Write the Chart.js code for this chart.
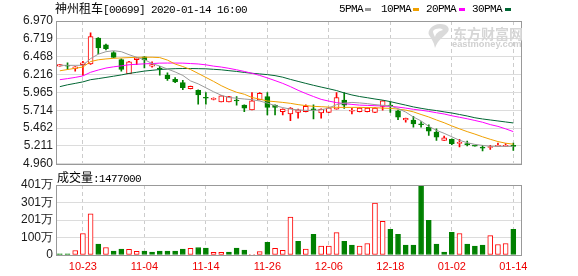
<!DOCTYPE html>
<html><head><meta charset="utf-8">
<script src="https://cdn.jsdelivr.net/npm/chart.js@4.4.1/dist/chart.umd.min.js"></script>
<style>
html,body{margin:0;padding:0;background:#fff;width:578px;height:276px;overflow:hidden;position:relative}
canvas{position:absolute;left:0}
#price{top:0}
#vol{top:170px}
.t{position:absolute;white-space:nowrap;color:#000;line-height:14px;height:14px}
.cjk{font-family:"Noto Sans CJK SC";font-size:12px}
.mono{font-family:"Liberation Mono";font-size:11px;letter-spacing:-0.6px}
.mk{position:absolute;height:3px;width:6px;top:8px}
</style></head><body>
<canvas id="price" width="578" height="174"></canvas>
<canvas id="vol" width="578" height="106"></canvas>

<div class="t" style="left:55px;top:1px"><span class="cjk">神州租车</span><span class="mono">[00699] 2020-01-14 16:00</span></div>

<div class="t mono" style="left:339px;top:2px">5PMA</div><div class="mk" style="left:365px;background:#999999"></div>
<div class="t mono" style="left:381px;top:2px">10PMA</div><div class="mk" style="left:413px;background:#f0a000"></div>
<div class="t mono" style="left:426px;top:2px">20PMA</div><div class="mk" style="left:459px;background:#ff00ff"></div>
<div class="t mono" style="left:472px;top:2px">30PMA</div><div class="mk" style="left:505px;background:#006633"></div>

<svg style="position:absolute;left:426px;top:23px" width="26" height="26" viewBox="0 0 26 26">
<path d="M14 1 C22 1 25 6 21 10 C17 14 12 17 9 25 C8 19 5 15 3 12 C1 8 6 1 14 1 Z" fill="#dadada"/>
<path d="M7 8 C10 5 15 5 17 7 C13 8 10 10 9 14 C8 12 7 10 7 8 Z" fill="#ffffff"/>
</svg>
<div class="t" style="left:453px;top:25px;font-family:'Noto Sans CJK SC';font-weight:bold;font-size:14px;color:#d6d6d6;line-height:16px;height:16px">东方财富网</div>
<div class="t" style="left:452px;top:37px;font-family:'Liberation Sans';font-weight:bold;font-size:9.3px;color:#d0d0d0">eastmoney.com</div>

<div class="t" style="left:57px;top:170px"><span class="cjk">成交量</span><span class="mono">:1477000</span></div>

<script>
// ---------------- data ----------------
const dates = ['10-18','10-21','10-22','10-23','10-24','10-25','10-28','10-29','10-30','10-31',
 '11-01','11-04','11-05','11-06','11-07','11-08','11-11','11-12','11-13','11-14',
 '11-15','11-18','11-19','11-20','11-21','11-22','11-25','11-26','11-27','11-28',
 '11-29','12-02','12-03','12-04','12-05','12-06','12-09','12-10','12-11','12-12',
 '12-13','12-16','12-17','12-18','12-19','12-20','12-23','12-24','12-27','12-30',
 '12-31','01-02','01-03','01-06','01-07','01-08','01-09','01-10','01-13','01-14'];

const open = [6.333,6.340,6.301,6.357,6.367,6.729,6.636,6.524,6.427,6.228,
 6.427,6.464,6.333,6.300,6.208,6.148,6.102,6.019,5.995,5.888,
 5.865,5.832,5.832,5.848,5.786,5.720,5.860,5.907,5.786,5.693,
 5.661,5.684,5.693,5.722,5.675,5.684,5.730,5.856,5.700,5.693,
 5.693,5.684,5.768,5.778,5.707,5.577,5.577,5.514,5.475,5.406,
 5.289,5.303,5.248,5.232,5.210,5.185,5.190,5.205,5.205,5.219];
const high = [6.357,6.381,6.330,6.403,6.803,6.735,6.645,6.540,6.436,6.403,
 6.455,6.470,6.395,6.333,6.241,6.172,6.134,6.055,6.000,5.963,
 5.890,5.920,5.910,5.907,5.790,5.963,5.963,5.963,5.790,5.735,
 5.750,5.730,5.790,5.790,5.735,5.750,5.963,5.963,5.740,5.750,
 5.750,5.750,5.850,5.832,5.715,5.605,5.629,5.553,5.507,5.452,
 5.350,5.310,5.303,5.280,5.212,5.219,5.219,5.253,5.243,5.253];
const low = [6.333,6.287,6.264,6.204,6.360,6.506,6.562,6.450,6.264,6.228,
 6.357,6.311,6.320,6.208,6.134,6.102,6.005,6.015,5.800,5.800,
 5.860,5.830,5.830,5.786,5.693,5.720,5.860,5.647,5.647,5.647,
 5.567,5.601,5.690,5.591,5.601,5.680,5.730,5.740,5.661,5.690,
 5.690,5.680,5.716,5.684,5.581,5.545,5.475,5.475,5.358,5.289,
 5.289,5.229,5.197,5.211,5.207,5.141,5.163,5.205,5.205,5.150];
const close = [6.357,6.333,6.325,6.381,6.751,6.590,6.580,6.459,6.287,6.395,
 6.450,6.423,6.357,6.292,6.158,6.111,6.033,6.051,5.929,5.883,
 5.883,5.916,5.907,5.844,5.744,5.846,5.953,5.754,5.754,5.730,
 5.744,5.720,5.768,5.718,5.730,5.748,5.893,5.786,5.707,5.744,
 5.744,5.744,5.846,5.773,5.615,5.601,5.521,5.510,5.420,5.336,
 5.326,5.243,5.253,5.229,5.208,5.181,5.195,5.219,5.219,5.205];

const ma5 = [6.346,6.346,6.346,6.347,6.441,6.503,6.538,6.552,6.538,6.496,
 6.459,6.427,6.371,6.336,6.294,6.253,6.204,6.127,6.085,6.030,
 5.974,5.925,5.893,5.883,5.872,5.863,5.844,5.814,5.779,5.751,
 5.730,5.719,5.712,5.712,5.719,5.745,5.793,5.814,5.824,5.817,
 5.807,5.793,5.783,5.775,5.737,5.688,5.619,5.563,5.487,5.431,
 5.389,5.340,5.291,5.257,5.233,5.219,5.208,5.205,5.205,5.205];
const ma10 = [6.269,6.287,6.304,6.322,6.399,6.424,6.436,6.445,6.450,6.455,
 6.459,6.460,6.460,6.455,6.420,6.364,6.329,6.287,6.232,6.176,
 6.120,6.060,6.009,5.967,5.939,5.893,5.870,5.844,5.835,5.824,
 5.811,5.793,5.779,5.769,5.764,5.758,5.755,5.754,5.754,5.754,
 5.752,5.750,5.744,5.740,5.730,5.716,5.691,5.654,5.619,5.577,
 5.538,5.493,5.452,5.413,5.378,5.340,5.305,5.273,5.250,5.236];
const ma20 = [6.144,6.159,6.176,6.197,6.248,6.280,6.308,6.325,6.339,6.354,
 6.361,6.367,6.371,6.377,6.378,6.378,6.377,6.371,6.365,6.353,
 6.335,6.322,6.304,6.283,6.260,6.234,6.204,6.169,6.131,6.092,
 6.046,5.995,5.949,5.907,5.867,5.842,5.821,5.807,5.796,5.786,
 5.782,5.778,5.773,5.769,5.758,5.744,5.727,5.714,5.698,5.679,
 5.661,5.636,5.615,5.594,5.570,5.545,5.512,5.487,5.452,5.413];
const ma30 = [6.046,6.072,6.092,6.113,6.144,6.159,6.176,6.193,6.211,6.232,
 6.248,6.265,6.276,6.287,6.294,6.299,6.301,6.301,6.299,6.297,
 6.290,6.283,6.271,6.260,6.246,6.234,6.225,6.215,6.201,6.179,
 6.148,6.120,6.092,6.065,6.040,6.016,5.991,5.957,5.929,5.907,
 5.890,5.872,5.856,5.835,5.810,5.786,5.761,5.741,5.723,5.709,
 5.691,5.675,5.654,5.633,5.608,5.591,5.577,5.563,5.549,5.535];

const volume = [70000,70000,260000,1230000,2360000,620000,430000,230000,340000,320000,
 210000,230000,170000,230000,230000,230000,340000,380000,430000,400000,
 150000,150000,170000,400000,280000,40000,190000,720000,380000,270000,
 2180000,790000,340000,1190000,510000,510000,1280000,790000,570000,510000,
 660000,2980000,1930000,1470000,1190000,570000,570000,4012000,1980000,620000,
 170000,1300000,1230000,620000,510000,570000,1110000,600000,660000,1477000];
// 1 = red (up day), 0 = green (down day) volume bar
const volumeUp = [0,0,1,1,1,0,1,0,0,1, 1,0,0,0,0,0,0,1,0,0, 1,1,0,0,0,1,1,0,1,1,
 1,0,1,0,1,1,1,0,0,1, 1,1,1,0,0,0,0,0,0,0, 0,0,1,0,0,0,1,1,1,0];

const priceTicks = [4.960,5.211,5.462,5.714,5.965,6.216,6.468,6.719,6.970];
const volumeTicks = [0,1003000,2006000,3009000,4012000];
const volumeTickLabels = ['0','100万','201万','301万','401万'];
const dateTickIdx = [3,11,19,27,35,43,51,59];

// ---------------- drawing ----------------
const RED = '#ff0000', GREEN = '#008000';
const idx = dates.map((d, i) => i);
const up = idx.map(i => close[i] >= open[i]);
const pts = arr => idx.map(i => ({x: i, y: arr[i]}));

const frame = {
  id: 'frame',
  afterDatasetsDraw(chart) {
    const {ctx, chartArea: a} = chart;
    ctx.save();
    ctx.strokeStyle = '#999999';
    ctx.lineWidth = 1;
    const l = Math.round(a.left), t = Math.round(a.top), r = Math.round(a.right), b = Math.round(a.bottom);
    ctx.strokeRect(l + 0.5, t + 0.5, r - l - 1, b - t);
    ctx.restore();
  }
};

const xCommon = (showLabels) => ({
  type: 'linear', min: -0.5, max: 60.13, offset: false,
  afterBuildTicks: s => { s.ticks = dateTickIdx.map(v => ({value: v})); },
  afterFit: s => { s.height = showLabels ? 21 : 0; },
  ticks: {
    display: showLabels, autoSkip: false, maxRotation: 0, padding: 5,
    color: '#ee0000', font: {family: 'Liberation Sans', size: 11},
    callback: v => dates[v]
  },
  grid: {color: '#cccccc', drawTicks: false, offset: false, lineWidth: 1},
  border: {display: false, dash: [4, 3]}
});

const common = {
  responsive: false, devicePixelRatio: 1, animation: false, events: [],
  plugins: {legend: {display: false}, tooltip: {enabled: false}}
};

new Chart(document.getElementById('price'), {
  type: 'bar',
  data: {
    datasets: [
      {type: 'line', data: pts(ma5), borderColor: '#9a9a9a', borderWidth: 1, pointRadius: 0, order: 0},
      {type: 'line', data: pts(ma10), borderColor: '#f0a000', borderWidth: 1, pointRadius: 0, order: 0},
      {type: 'line', data: pts(ma20), borderColor: '#ff00ff', borderWidth: 1, pointRadius: 0, order: 0},
      {type: 'line', data: pts(ma30), borderColor: '#006633', borderWidth: 1, pointRadius: 0, order: 0},
      {type: 'bar', data: idx.map(i => ({x: i, y: [open[i], close[i]]})),
        backgroundColor: idx.map(i => up[i] ? '#ffffff' : GREEN),
        borderColor: idx.map(i => up[i] ? RED : GREEN),
        borderWidth: 1, borderSkipped: false, barThickness: 5, minBarLength: 1, grouped: false, order: 1},
      {type: 'bar', data: idx.map(i => ({x: i, y: [low[i], high[i]]})),
        backgroundColor: idx.map(i => up[i] ? RED : GREEN),
        borderWidth: 0, barThickness: 1, grouped: false, order: 2}
    ]
  },
  options: Object.assign({}, common, {
    layout: {padding: {left: 0, right: 56, top: 21, bottom: 9}},
    scales: {
      x: xCommon(false),
      y: {
        type: 'linear', min: 4.960, max: 6.970, beginAtZero: false,
        afterBuildTicks: s => { s.ticks = priceTicks.map(v => ({value: v})); },
        afterFit: s => { s.width = 56; },
        ticks: {autoSkip: false, padding: 3, color: '#1a1a1a', font: {family: 'Liberation Sans', size: 12},
          callback: (v, i) => priceTicks[i].toFixed(3)},
        grid: {color: '#dcdcdc', drawTicks: false},
        border: {display: false}
      }
    }
  }),
  plugins: [frame]
});

new Chart(document.getElementById('vol'), {
  type: 'bar',
  data: {
    datasets: [
      {data: idx.map(i => ({x: i, y: volume[i]})),
        backgroundColor: idx.map(i => volumeUp[i] ? '#ffffff' : GREEN),
        borderColor: idx.map(i => volumeUp[i] ? RED : GREEN),
        borderWidth: 1, borderSkipped: false, barThickness: 5, grouped: false}
    ]
  },
  options: Object.assign({}, common, {
    layout: {padding: {left: 0, right: 56, top: 15, bottom: 0}},
    scales: {
      x: xCommon(true),
      y: {
        type: 'linear', min: 0, max: 4012000,
        afterBuildTicks: s => { s.ticks = volumeTicks.map(v => ({value: v})); },
        afterFit: s => { s.width = 56; },
        ticks: {autoSkip: false, padding: 3, color: '#1a1a1a', font: {family: 'Liberation Sans', size: 12},
          callback: (v, i) => volumeTickLabels[i]},
        grid: {color: '#dcdcdc', drawTicks: false},
        border: {display: false}
      }
    }
  }),
  plugins: [frame]
});
</script>
</body></html>
